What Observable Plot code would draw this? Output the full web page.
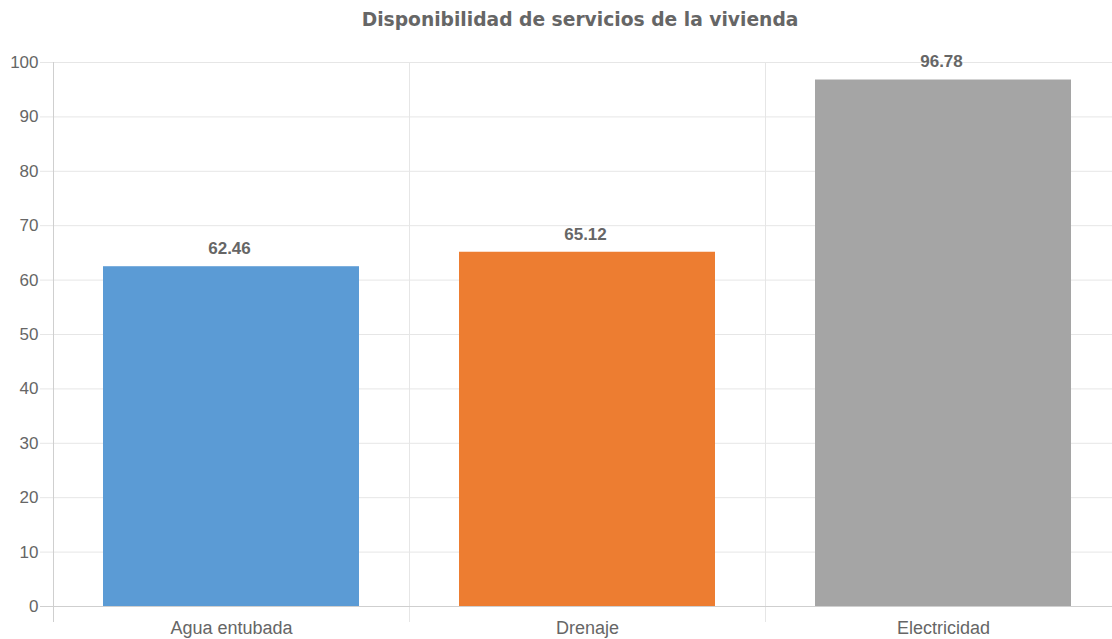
<!DOCTYPE html>
<html>
<head>
<meta charset="utf-8">
<script src="https://cdn.jsdelivr.net/npm/d3@7"></script>
<script src="https://cdn.jsdelivr.net/npm/@observablehq/plot@0.6"></script>
<style>
  html, body { margin: 0; padding: 0; background: #fff; }
  #chart { width: 1112px; height: 639px; overflow: hidden; }
  svg { overflow: hidden; }
</style>
</head>
<body>
<div id="chart"></div>
<script>
const title = "Disponibilidad de servicios de la vivienda";
const categories = ["Agua entubada", "Drenaje", "Electricidad"];
const values = [62.46, 65.12, 96.78];
const yTicks = [0, 10, 20, 30, 40, 50, 60, 70, 80, 90, 100];

const data = categories.map((c, i) => ({category: c, value: values[i]}));

const chart = Plot.plot({
  width: 1112,
  height: 639,
  marginTop: 62,
  marginBottom: 33,
  marginLeft: 53,
  marginRight: 0,
  style: {fontFamily: "'Liberation Sans', Arial, sans-serif", fontSize: "16.5px", color: "#666", background: "#fff"},
  x: {domain: categories, range: [53, 1121], padding: 0, label: null},
  y: {domain: [0, 100], label: null},
  color: {domain: categories, range: ["#5B9BD5", "#ED7D31", "#A5A5A5"]},
  marks: [
    Plot.gridY(yTicks, {stroke: "#e6e6e6", strokeOpacity: 1, insetLeft: -13}),
    Plot.ruleX(categories, {x: d => d, dx: -178, stroke: "#e6e6e6", strokeOpacity: 1, insetBottom: -16}),
    Plot.barY(data, {x: "category", y: "value", fill: "category", insetLeft: 50, insetRight: 50}),
    Plot.ruleX([categories[0]], {dx: -178, stroke: "#cfcfcf", insetBottom: -16}),
    Plot.ruleY([0], {stroke: "#cfcfcf", insetLeft: -13}),
    Plot.axisY(yTicks, {tickSize: 0, tickPadding: 15, fill: "#666", fontSize: 17, label: null}),
    Plot.axisX({tickSize: 0, tickPadding: 15, fill: "#666", fontSize: 18, label: null}),
    Plot.text(data, {x: "category", y: "value", text: d => d.value.toFixed(2), dy: -18, dx: -2, fontWeight: "bold", fontSize: 17, fill: "#666"}),
    Plot.text([title], {frameAnchor: "top", dy: -42, dx: -3, lineAnchor: "middle", fontFamily: "'DejaVu Sans', Verdana, sans-serif", fontWeight: "bold", fontSize: 18.7, fill: "#666"})
  ]
});
document.getElementById("chart").appendChild(chart);
</script>
</body>
</html>
